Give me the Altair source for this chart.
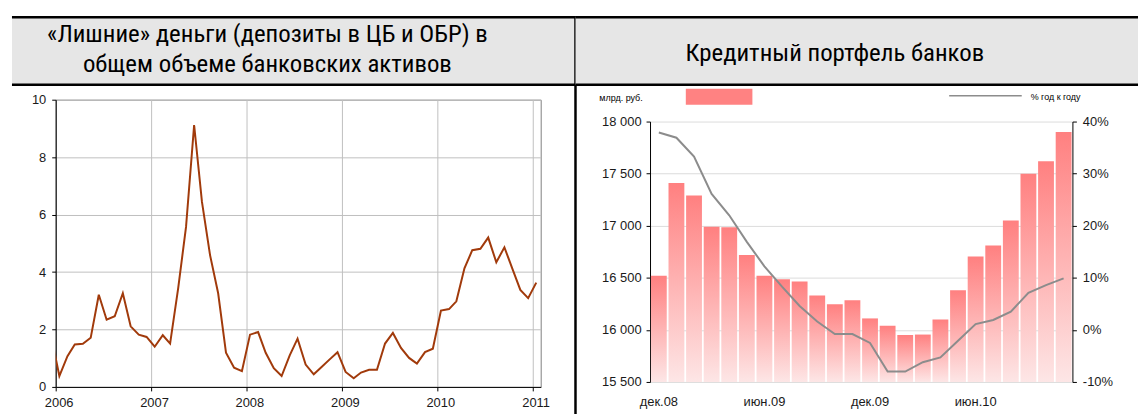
import altair as alt
import pandas as pd

# ---------------- data ----------------
# left chart: share of "excess" money, monthly (points mid-month), Dec 2005 .. Jan 2011
left_values = [1.76,
    0.38, 1.07, 1.48, 1.50, 1.71, 3.21, 2.34, 2.46, 3.26, 2.11, 1.82, 1.74,
    1.40, 1.80, 1.51, 3.44, 5.57, 9.12, 6.44, 4.59, 3.26, 1.19, 0.67, 0.55,
    1.82, 1.91, 1.19, 0.65, 0.38, 1.10, 1.68, 0.78, 0.44, 0.69, 0.96, 1.21,
    0.52, 0.30, 0.50, 0.60, 0.60, 1.51, 1.88, 1.36, 1.01, 0.81, 1.21, 1.33,
    2.66, 2.71, 2.98, 4.13, 4.76, 4.81, 5.20, 4.34, 4.86, 4.13, 3.38, 3.09,
    3.63]
left_dates = pd.date_range("2005-12-01", periods=len(left_values), freq="MS") + pd.Timedelta(days=14)
left_years = [2006, 2007, 2008, 2009, 2010, 2011]
left_yticks = [0, 2, 4, 6, 8, 10]

# right chart: credit portfolio (bn RUB) and growth yoy (%)
months = ["дек.08", "янв.09", "фев.09", "мар.09", "апр.09", "май.09", "июн.09", "июл.09",
          "авг.09", "сен.09", "окт.09", "ноя.09", "дек.09", "янв.10", "фев.10", "мар.10",
          "апр.10", "май.10", "июн.10", "июл.10", "авг.10", "сен.10", "окт.10", "ноя.10"]
credit = [16520, 17410, 17290, 16990, 16985, 16720, 16520, 16485, 16465, 16330, 16245, 16285,
          16110, 16040, 15950, 15955, 16100, 16380, 16705, 16810, 17050, 17500, 17620, 17900]
growth = [37.9, 36.9, 33.3, 26.1, 22.0, 16.9, 12.2, 8.3, 4.6, 1.6, -0.8, -0.8,
          -2.5, -8.0, -8.0, -6.2, -5.3, -2.1, 1.1, 1.9, 3.5, 7.1, 8.6, 9.9]
month_labels = ["дек.08", "июн.09", "дек.09", "июн.10"]
credit_ticks = [15500, 16000, 16500, 17000, 17500, 18000]
growth_ticks = [-10, 0, 10, 20, 30, 40]

title_left_1 = "«Лишние» деньги (депозиты в ЦБ и ОБР) в"
title_left_2 = "общем объеме банковских активов"
title_right = "Кредитный портфель банков"
legend_unit = "млрд. руб."
legend_line = "% год к году"

# ---------------- styles ----------------
FONT = "Liberation Sans, Arial, sans-serif"
NARROW = "Liberation Sans Narrow, Arial Narrow, Roboto Condensed, Liberation Sans, Arial"
HEADER_FILL = "#e6e6e6"

left_df = pd.DataFrame({"date": left_dates, "v": left_values})
right_df = pd.DataFrame({"m": months, "credit": credit, "growth": growth})
one = pd.DataFrame({"k": [0]})


def rect(x, x2, y, y2, color):
    return alt.Chart(one).mark_rect(color=color).encode(
        x=alt.value(x), x2=alt.value(x2), y=alt.value(y), y2=alt.value(y2))


def hrule(x, x2, y, w=2.5, color="black"):
    return alt.Chart(one).mark_rule(color=color, strokeWidth=w).encode(
        x=alt.value(x), x2=alt.value(x2), y=alt.value(y))


def vrule(x, y, y2, w=2.5, color="black"):
    return alt.Chart(one).mark_rule(color=color, strokeWidth=w).encode(
        x=alt.value(x), y=alt.value(y), y2=alt.value(y2))


def text(t, x, y, size, font=FONT, align="center", baseline="alphabetic"):
    return alt.Chart(one).mark_text(text=t, font=font, fontSize=size, align=align,
                                    baseline=baseline, color="black").encode(
        x=alt.value(x), y=alt.value(y))


# ---------------- left panel ----------------
line_left = alt.Chart(left_df).mark_line(color="#A13A0B", strokeWidth=2, clip=True).encode(
    x=alt.X("date:T",
            scale=alt.Scale(domain=[alt.DateTime(year=2006, month=1, date=1),
                                    alt.DateTime(year=2011, month=2, date=1)]),
            axis=alt.Axis(values=[alt.DateTime(year=y, month=1, date=1) for y in left_years],
                          format="%Y", title=None, grid=True, gridColor="#c0c0c0",
                          tickSize=4, labelPadding=6, labelFlush=False, labelOffset=3)),
    y=alt.Y("v:Q", scale=alt.Scale(domain=[0, 10]),
            axis=alt.Axis(values=left_yticks, title=None, grid=True, gridColor="#c0c0c0",
                          tickSize=4, labelPadding=6)),
)

left = alt.layer(
    rect(-44, 523, -83, -15, HEADER_FILL),
    hrule(-44, 523, -83),
    hrule(-44, 523, -15),
    vrule(523, -84, 317),
    text(title_left_1, 213, -58, 25, NARROW),
    text(title_left_2, 213, -28, 25, NARROW),
    line_left,
).properties(width=488, height=289,
             view=alt.ViewBackground(stroke="#808080", strokeWidth=1))

# ---------------- right panel ----------------
grad = alt.Gradient(gradient="linear",
                    stops=[alt.GradientStop(color="#ff8080", offset=0),
                           alt.GradientStop(color="#fde6e6", offset=1)],
                    x1=1, x2=1, y1=0, y2=1)

xband = alt.X("m:N", sort=months,
              scale=alt.Scale(paddingInner=0.1, paddingOuter=0.05),
              axis=alt.Axis(values=month_labels, title=None, ticks=False, domain=False,
                            labelAngle=0, labelPadding=9))

bars = alt.Chart(right_df).mark_bar(color=grad).encode(
    x=xband,
    y=alt.Y("credit:Q", scale=alt.Scale(domain=[15500, 18000], range=[284, 22], zero=False),
            axis=alt.Axis(values=credit_ticks, title=None, grid=True, gridColor="#dcdcdc",
                          tickSize=4, labelPadding=5,
                          labelExpr="replace(format(datum.value, ','), ',', ' ')")),
    y2=alt.datum(15500),
)

line_right = alt.Chart(right_df).mark_line(color="#8c8c8c", strokeWidth=2).encode(
    x=xband,
    y=alt.Y("growth:Q", scale=alt.Scale(domain=[-10, 40], range=[284, 22], zero=False),
            axis=alt.Axis(values=growth_ticks, title=None, grid=False, orient="right",
                          tickSize=4, labelPadding=6, labelExpr="datum.value + '%'")),
)

plots_right = alt.layer(bars, line_right).resolve_scale(y="independent")

right = alt.layer(
    rect(-75, 491, -83, -15, HEADER_FILL),
    hrule(-75, 491, -83),
    hrule(-75, 491, -15),
    text(title_right, 186, -39, 25, NARROW),
    text(legend_unit, -51, -2, 9, FONT, align="left", baseline="middle"),
    rect(36, 103, -11, 5, "#ff8282"),
    hrule(301, 374, -4, w=1.5, color="#8c8c8c"),
    text(legend_line, 383, -3, 9, FONT, align="left", baseline="middle"),
    plots_right,
).properties(width=425, height=289,
             view=alt.ViewBackground(stroke="transparent"))

chart = alt.hconcat(left, right, spacing=110, bounds="flush").properties(
    padding={"left": 2, "top": 5, "right": 0, "bottom": 0}
).configure_view(stroke="transparent").configure_axis(
    labelFont=FONT, labelFontSize=13, labelColor="#1a1a1a",
    domainColor="black", tickColor="black", domainWidth=1, tickWidth=1,
)

chart.save("out.html", embed_options={"renderer": "svg", "actions": False})
